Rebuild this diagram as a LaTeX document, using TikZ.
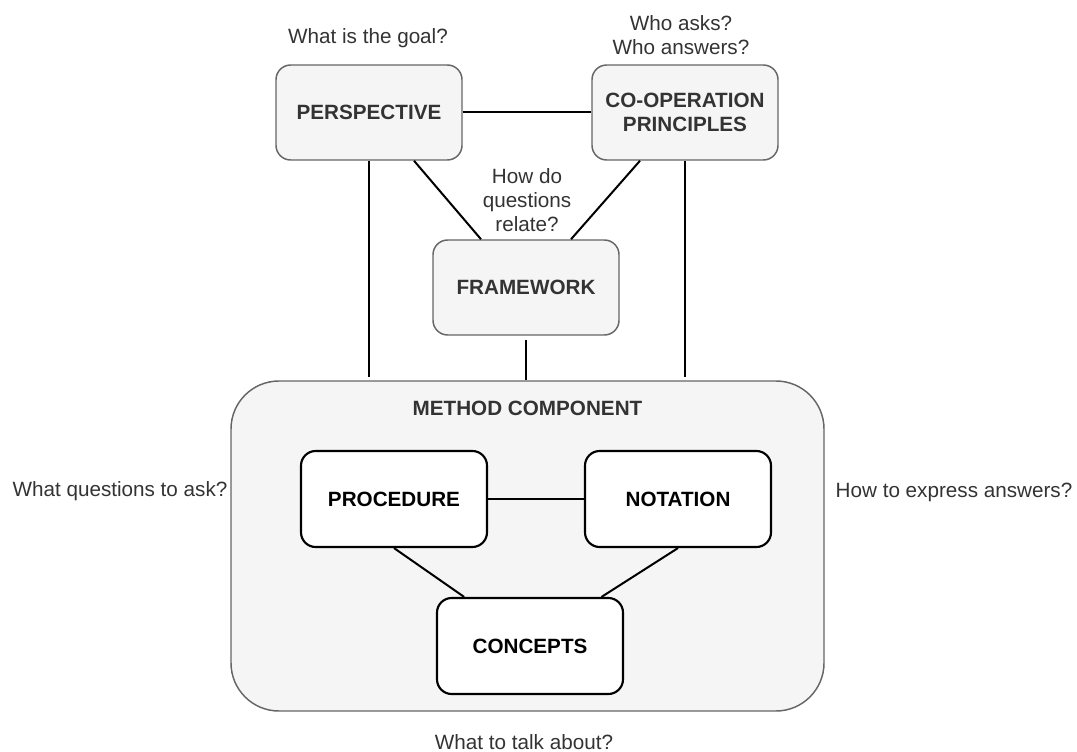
\documentclass[tikz,border=0pt]{standalone}
\usepackage{fontspec}
\setmainfont{Liberation Sans}
\usetikzlibrary{calc}

\definecolor{boxfill}{HTML}{F5F5F5}
\definecolor{boxline}{HTML}{666666}
\definecolor{inkgray}{HTML}{333333}
\newcommand\diafont{\fontsize{15.5}{17.8}\selectfont}

\begin{document}
\begin{tikzpicture}[x=0.75pt,y=-0.75pt,
  graybox/.style={draw=boxline, fill=boxfill, line width=1.1pt, rounded corners=11pt,
    minimum width=139.5pt, minimum height=71.25pt, align=center,
    font=\diafont\bfseries, text=inkgray},
  whitebox/.style={draw=black, fill=white, line width=1.6pt, rounded corners=11pt,
    minimum width=139.5pt, minimum height=72pt, align=center,
    font=\diafont\bfseries, text=black},
  note/.style={font=\diafont, text=inkgray, align=center},
  link/.style={line width=1.5pt, draw=black},
]
\useasboundingbox (0,0) rectangle (1077,752);

% outer method container
\node[draw=boxline, fill=boxfill, line width=1.1pt, rounded corners=36pt,
      minimum width=444.75pt, minimum height=247.5pt] (method) at (527.5,546) {};
\node[font=\diafont\bfseries, text=inkgray] (mlabel) at (527.5,408) {METHOD COMPONENT};

% upper level boxes
\node[graybox] (persp) at (369,112.5) {PERSPECTIVE};
\node[graybox] (coop)  at (685,112.5) {CO-OPERATION\\PRINCIPLES};
\node[graybox] (fw)    at (526,287.5) {FRAMEWORK};

% parts of the method component
\node[whitebox] (proc) at (394,499) {PROCEDURE};
\node[whitebox] (nota) at (678,499) {NOTATION};
\node[whitebox] (conc) at (530,646) {CONCEPTS};

% guiding questions
\node[note] (q1) at (368,38)   {What is the goal?};
\node[note] (q2) at (681,35)   {Who asks?\\Who answers?};
\node[note] (q3) at (527,200)  {How do\\questions\\relate?};
\node[note] (q4) at (120,491)  {What questions to ask?};
\node[note] (q5) at (954,492)  {How to express answers?};
\node[note] (q6) at (524,742)  {What to talk about?};

% connectors
\draw[link] (persp) -- (coop);
\draw[link, shorten >=2.25pt] (persp.south) -- (persp.south |- method.north);
\draw[link, shorten >=2.25pt] (coop.south) -- (coop.south |- method.north);
\draw[link, shorten <=3pt] (fw.south) -- (fw.south |- method.north);
\draw[link] ($(persp.south west)!0.74!(persp.south east)$) -- ($(fw.north west)!0.26!(fw.north east)$);
\draw[link] ($(coop.south west)!0.26!(coop.south east)$) -- ($(fw.north west)!0.74!(fw.north east)$);
\draw[link] (proc) -- (nota);
\draw[link] (proc.south) -- ($(conc.north west)!0.15!(conc.north east)$);
\draw[link] (nota.south) -- ($(conc.north west)!0.88!(conc.north east)$);
\end{tikzpicture}
\end{document}
